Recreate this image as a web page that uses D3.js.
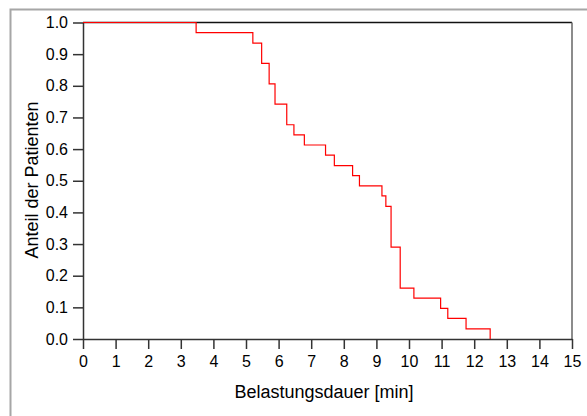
<!DOCTYPE html>
<html>
<head>
<meta charset="utf-8">
<script src="https://cdn.jsdelivr.net/npm/d3@7"></script>
<style>
  html, body { margin: 0; padding: 0; background: #fff; }
  svg { display: block; }
  text { font-family: Arial, "Liberation Sans", sans-serif; fill: #000; }
</style>
</head>
<body>
<svg id="chart" width="587" height="416"></svg>
<script>
// Step times (min) where the curve drops, and the level after each drop
const eventTimes = [3.47, 5.21, 5.48, 5.71, 5.89, 6.25, 6.47, 6.79, 7.44, 7.71, 8.27, 8.48, 9.17, 9.29, 9.45, 9.73, 10.15, 10.97, 11.19, 11.75, 12.49];
const levels = [0.968, 0.935, 0.871, 0.806, 0.742, 0.677, 0.645, 0.613, 0.581, 0.548, 0.516, 0.484, 0.452, 0.419, 0.290, 0.161, 0.129, 0.097, 0.065, 0.032, 0.0];
const startLevel = 1.0;
const xTicks = [0, 1, 2, 3, 4, 5, 6, 7, 8, 9, 10, 11, 12, 13, 14, 15];
const yTicks = [0.0, 0.1, 0.2, 0.3, 0.4, 0.5, 0.6, 0.7, 0.8, 0.9, 1.0];
const xTitle = "Belastungsdauer [min]";
const yTitle = "Anteil der Patienten";

const svg = d3.select("#chart");
const mLeft = 83, mRight = 572, mTop = 22.5, mBottom = 339;

// outer frame
svg.append("rect")
  .attr("x", 10.5).attr("y", 9.5).attr("width", 620).attr("height", 460)
  .attr("fill", "none").attr("stroke", "#a6a6a6").attr("stroke-width", 2);

const x = d3.scaleLinear().domain([0, 15]).range([mLeft, mRight]);
const y = d3.scaleLinear().domain([0, 1]).range([mBottom, mTop]);

// top and right frame lines of plot
svg.append("line").attr("x1", mLeft).attr("x2", mRight).attr("y1", mTop).attr("y2", mTop)
  .attr("stroke", "#111").attr("stroke-width", 1.5);
svg.append("line").attr("x1", mRight).attr("x2", mRight).attr("y1", mTop).attr("y2", mBottom)
  .attr("stroke", "#666").attr("stroke-width", 1.5);

// axes
const xAxis = svg.append("g").attr("transform", `translate(0,${mBottom})`)
  .call(d3.axisBottom(x).tickValues(xTicks).tickFormat(d3.format("d")).tickSize(10).tickSizeOuter(0));
const yAxis = svg.append("g").attr("transform", `translate(${mLeft},0)`)
  .call(d3.axisLeft(y).tickValues(yTicks).tickFormat(d3.format(".1f")).tickSize(10).tickSizeOuter(0));

[xAxis, yAxis].forEach(g => {
  g.selectAll("path.domain").attr("stroke", "#333").attr("stroke-width", 1.5);
  g.selectAll(".tick line").attr("stroke", "#333").attr("stroke-width", 1.5);
  g.selectAll(".tick text").attr("font-size", 16).attr("font-family", "Arial, 'Liberation Sans', sans-serif").attr("fill", "#000");
});
xAxis.selectAll(".tick text").attr("dy", "0.71em").attr("y", 17);
yAxis.selectAll(".tick text").attr("x", -15);

// step curve
const pts = [[0, startLevel]];
eventTimes.forEach((t, i) => { pts.push([t, levels[i]]); });
const line = d3.line().x(d => x(d[0])).y(d => y(d[1])).curve(d3.curveStepAfter);
svg.append("path").datum(pts)
  .attr("d", line)
  .attr("fill", "none").attr("stroke", "#ff0000").attr("stroke-width", 1.2);

// titles
svg.append("text").attr("x", 324).attr("y", 398).attr("text-anchor", "middle")
  .attr("font-size", 18).text(xTitle);
svg.append("text").attr("transform", `translate(38,180) rotate(-90)`)
  .attr("text-anchor", "middle").attr("font-size", 18).text(yTitle);
</script>
</body>
</html>
